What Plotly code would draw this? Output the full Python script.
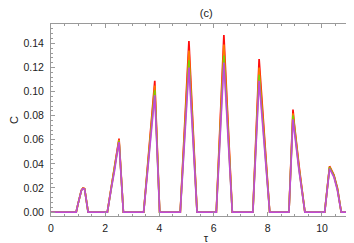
import plotly.graph_objects as go

# shared time grid (tau)
tau = [0.0,
       0.93, 1.00, 1.06, 1.12, 1.18, 1.24, 1.37,
       2.08, 2.22, 2.35, 2.45, 2.51, 2.67,
       3.42, 3.83, 4.01,
       4.77, 5.09, 5.39,
       6.10, 6.38, 6.69,
       7.45, 7.68, 8.07,
       8.78, 8.93, 8.98, 9.15, 9.37,
       10.10, 10.28, 10.44, 10.57, 10.71,
       11.44]

c_red = [0.0,
         0.0, 0.007, 0.013, 0.018, 0.020, 0.0195, 0.0,
         0.0, 0.020, 0.038, 0.054, 0.061, 0.0,
         0.0, 0.109, 0.0,
         0.0, 0.142, 0.0,
         0.0, 0.147, 0.0,
         0.0, 0.127, 0.0,
         0.0, 0.085, 0.073, 0.039, 0.0,
         0.0, 0.038, 0.031, 0.020, 0.0,
         0.0]

c_orange = [0.0,
            0.0, 0.007, 0.013, 0.018, 0.020, 0.0195, 0.0,
            0.0, 0.020, 0.037, 0.053, 0.060, 0.0,
            0.0, 0.105, 0.0,
            0.0, 0.134, 0.0,
            0.0, 0.139, 0.0,
            0.0, 0.120, 0.0,
            0.0, 0.082, 0.071, 0.037, 0.0,
            0.0, 0.0375, 0.030, 0.019, 0.0,
            0.0]

c_green = [0.0,
           0.0, 0.007, 0.013, 0.0178, 0.0195, 0.019, 0.0,
           0.0, 0.019, 0.036, 0.052, 0.059, 0.0,
           0.0, 0.101, 0.0,
           0.0, 0.126, 0.0,
           0.0, 0.130, 0.0,
           0.0, 0.114, 0.0,
           0.0, 0.080, 0.069, 0.036, 0.0,
           0.0, 0.037, 0.030, 0.019, 0.0,
           0.0]

c_magenta = [0.0,
             0.0, 0.007, 0.013, 0.0178, 0.0195, 0.019, 0.0,
             0.0, 0.019, 0.035, 0.051, 0.058, 0.0,
             0.0, 0.097, 0.0,
             0.0, 0.120, 0.0,
             0.0, 0.124, 0.0,
             0.0, 0.109, 0.0,
             0.0, 0.077, 0.067, 0.035, 0.0,
             0.0, 0.036, 0.029, 0.018, 0.0,
             0.0]

series = [
    ("red", c_red, "rgba(255,0,0,0.95)"),
    ("orange", c_orange, "rgba(255,140,0,0.85)"),
    ("green", c_green, "rgba(110,220,0,0.9)"),
    ("magenta", c_magenta, "rgba(200,60,235,0.9)"),
]

FONT = "Liberation Sans, Arial, sans-serif"

fig = go.Figure()
for name, vals, col in series:
    fig.add_trace(go.Scatter(x=tau, y=vals, mode="lines", name=name,
                             line=dict(color=col, width=1.7),
                             showlegend=False, hoverinfo="skip"))

axis_common = dict(
    showline=True, linecolor="#9a9a9a", linewidth=1, mirror="allticks",
    ticks="inside", ticklen=4, tickcolor="#9a9a9a", tickwidth=1,
    showgrid=False, zeroline=False,
    tickfont=dict(family=FONT, size=10.5, color="#222"),
)

fig.update_layout(
    width=354, height=243,
    margin=dict(l=43, r=1, t=16, b=35),
    paper_bgcolor="white", plot_bgcolor="white",
    title=dict(text="(c)", x=0.56, xanchor="center", yref="container", y=0.995, yanchor="top",
               pad=dict(t=0, b=0),
               font=dict(family=FONT, size=11, color="#222")),
    xaxis=dict(range=[0, 11.44], tickvals=[0, 2, 4, 6, 8, 10],
               minor=dict(dtick=0.5, ticks="inside", ticklen=2, tickcolor="#9a9a9a"),
               ticklabelstandoff=2,
               title=dict(text="τ", standoff=1,
                          font=dict(family=FONT, size=11, color="#222")),
               **axis_common),
    yaxis=dict(range=[-0.0033, 0.1561], tickvals=[0, 0.02, 0.04, 0.06, 0.08, 0.10, 0.12, 0.14],
               tickformat=".2f",
               minor=dict(dtick=0.004, tick0=0, ticks="inside", ticklen=2, tickcolor="#9a9a9a"),
               ticklabelstandoff=4,
               title=dict(text="C", standoff=4,
                          font=dict(family=FONT, size=11, color="#222")),
               **axis_common),
)

fig.write_html("out.html")
